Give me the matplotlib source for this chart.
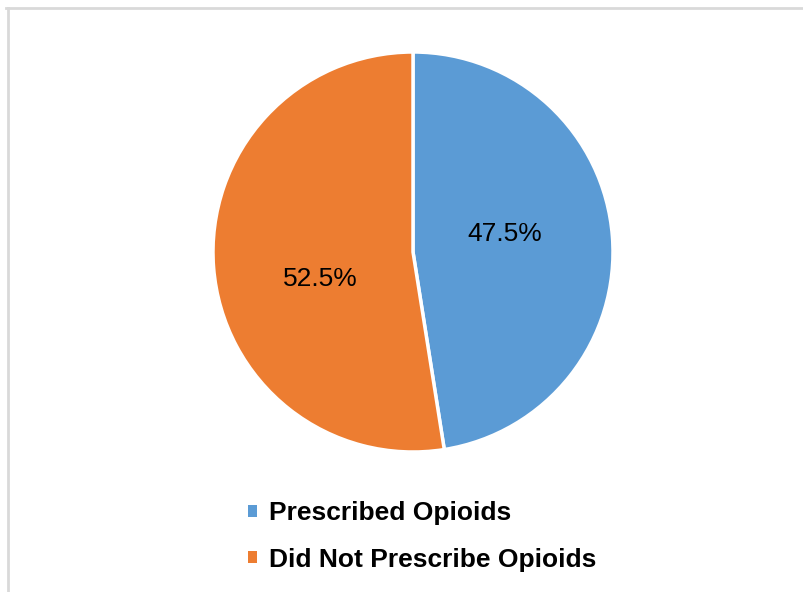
import matplotlib
matplotlib.use('Agg')
from matplotlib import pyplot as plt
from matplotlib.patches import Patch
from matplotlib.lines import Line2D

#--------------------------------------------------------60
# Data

labels = ['Prescribed Opioids', 'Did Not Prescribe Opioids']
shares = [47.5, 52.5]
colors = ['#5B9BD5', '#ED7D31']

#--------------------------------------------------------60

plt.rcParams['font.family'] = ['Liberation Sans', 'DejaVu Sans']

W, H = 804, 592
fig = plt.figure(figsize=(W/100, H/100), dpi=100)

# pie axes: centre ~ (413, 252) px, radius ~ 200 px
cx, cy, r = 413, 252, 200
ax = fig.add_axes([(cx - r)/W, (H - cy - r)/H, 2*r/W, 2*r/H])

wedges, texts, autotexts = ax.pie(
    shares, colors=colors, startangle=90, counterclock=False,
    autopct='%.1f%%', pctdistance=0.47, radius=1.0,
    wedgeprops=dict(edgecolor='white', linewidth=2.5, clip_on=False),
    textprops=dict(fontsize=19, color='black'))
ax.set_xlim(-1.0, 1.0)
ax.set_ylim(-1.0, 1.0)
ax.set_aspect('equal')
ax.axis('off')

# Excel-like label placement
autotexts[0].set_position((0.46, 0.09))
autotexts[1].set_position((-0.465, -0.135))

# Legend
handles = [Patch(facecolor=c, edgecolor='none') for c in colors]
fig.legend(handles, labels, loc='upper left',
           bbox_to_anchor=(235/W, 1 - 488/H),
           frameon=False, handlelength=0.32, handleheight=0.32,
           handletextpad=0.45, labelspacing=0.85, borderpad=0,
           prop=dict(size=19, weight='bold'))

# Chart border (top and left edges visible)
fig.add_artist(Line2D([6/W, 1.0], [1 - 8/H, 1 - 8/H], color='#D9D9D9',
                      lw=2, transform=fig.transFigure))
fig.add_artist(Line2D([8/W, 8/W], [0.0, 1 - 8/H], color='#D9D9D9',
                      lw=2, transform=fig.transFigure))

fig.savefig('out.png', dpi=100, facecolor='white')
